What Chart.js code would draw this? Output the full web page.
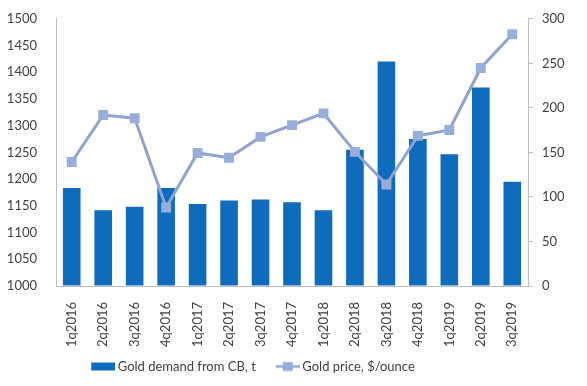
<!DOCTYPE html>
<html>
<head>
<meta charset="utf-8">
<script src="https://cdn.jsdelivr.net/npm/chart.js@4"></script>
<style>
html,body{margin:0;padding:0;background:#fff;}
#wrap{width:587px;height:386px;position:relative;}
</style>
</head>
<body>
<div id="wrap"><canvas id="c"></canvas></div>
<script>
const categories = ["1q2016","2q2016","3q2016","4q2016","1q2017","2q2017","3q2017","4q2017","1q2018","2q2018","3q2018","4q2018","1q2019","2q2019","3q2019"];
const cbDemand = [110, 85, 89, 110, 92, 96, 97, 94, 85, 153, 252, 165, 148, 223, 117];
const goldPrice = [1232, 1320, 1314, 1147, 1249, 1240, 1279, 1301, 1323, 1251, 1190, 1281, 1292, 1408, 1471];
const leftTicks = {min:1000, max:1500, step:50};
const rightTicks = {min:0, max:300, step:50};

const barColor = '#0F6CBD';
const lineColor = '#8EA3CD';
const markerColor = '#97ADDA';
const textColor = '#404040';
const axisColor = '#BFBFBF';
const fontFamily = 'Lato, "Open Sans", sans-serif';

// legend icons: 41px wide canvas, visible 24px symbol on the right part
function mkIcon(kind){
  const cv = document.createElement('canvas');
  cv.width = 41; cv.height = 12;
  const g = cv.getContext('2d');
  const x0 = 17;
  if (kind === 'bar') {
    g.fillStyle = barColor;
    g.fillRect(x0, 2, 24, 8);
  } else {
    g.strokeStyle = lineColor; g.lineWidth = 2.5;
    g.beginPath(); g.moveTo(x0,6); g.lineTo(x0+24,6); g.stroke();
    g.fillStyle = markerColor;
    g.fillRect(x0+7, 1.5, 10, 9);
  }
  return cv;
}
const barIcon = mkIcon('bar');
const lineIcon = mkIcon('line');

const legendShift = {
  id: 'legendShift',
  afterLayout(chart){
    if (chart.legend) { chart.legend.left -= 42; chart.legend.right -= 42; }
  }
};

new Chart(document.getElementById('c'), {
  plugins: [legendShift],
  data: {
    labels: categories,
    datasets: [
      {
        type: 'bar',
        label: 'Gold demand from CB, t',
        data: cbDemand,
        yAxisID: 'y1',
        backgroundColor: barColor,
        categoryPercentage: 0.56,
        barPercentage: 1.0,
        order: 2
      },
      {
        type: 'line',
        label: 'Gold price, $/ounce',
        data: goldPrice,
        yAxisID: 'y',
        borderColor: lineColor,
        borderWidth: 3,
        pointStyle: 'rect',
        pointRadius: 7,
        pointHoverRadius: 7,
        pointBackgroundColor: markerColor,
        pointBorderColor: markerColor,
        pointBorderWidth: 0,
        tension: 0,
        order: 1
      }
    ]
  },
  options: {
    responsive: true,
    maintainAspectRatio: false,
    animation: false,
    layout: { padding: { top: 12, left: 0, right: 10, bottom: 3 } },
    plugins: {
      tooltip: { enabled: false },
      legend: {
        position: 'bottom',
        labels: {
          usePointStyle: true,
          pointStyleWidth: 33,
          padding: 7,
          color: textColor,
          font: { family: fontFamily, size: 13 },
          generateLabels: function(chart){
            return [
              { text: 'Gold demand from CB, t', pointStyle: barIcon, fillStyle: barColor, strokeStyle: barColor, lineWidth: 0, datasetIndex: 0, fontColor: textColor },
              { text: 'Gold price, $/ounce', pointStyle: lineIcon, fillStyle: markerColor, strokeStyle: lineColor, lineWidth: 0, datasetIndex: 1, fontColor: textColor }
            ];
          }
        }
      }
    },
    scales: {
      x: {
        grid: { display: false },
        border: { display: true, color: axisColor, width: 1 },
        ticks: { color: textColor, font: { family: fontFamily, size: 13 }, minRotation: 90, maxRotation: 90, padding: 8, autoSkip: false },
        afterFit: function(s){ s.height = 67; }
      },
      y: {
        position: 'left',
        min: leftTicks.min, max: leftTicks.max,
        grid: { display: false },
        border: { display: true, color: axisColor, width: 1 },
        ticks: { stepSize: leftTicks.step, color: textColor, font: { family: fontFamily, size: 13 }, padding: 11,
                 callback: function(v){ return String(v); } },
        afterFit: function(s){ s.width = 56; }
      },
      y1: {
        position: 'right',
        min: rightTicks.min, max: rightTicks.max,
        grid: { display: true, drawOnChartArea: false, drawTicks: true, tickLength: 5, color: axisColor },
        border: { display: true, color: axisColor, width: 1 },
        ticks: { stepSize: rightTicks.step, color: textColor, font: { family: fontFamily, size: 13 }, padding: 9,
                 callback: function(v){ return String(v); } },
        afterFit: function(s){ s.width = 49; }
      }
    }
  }
});
</script>
</body>
</html>
